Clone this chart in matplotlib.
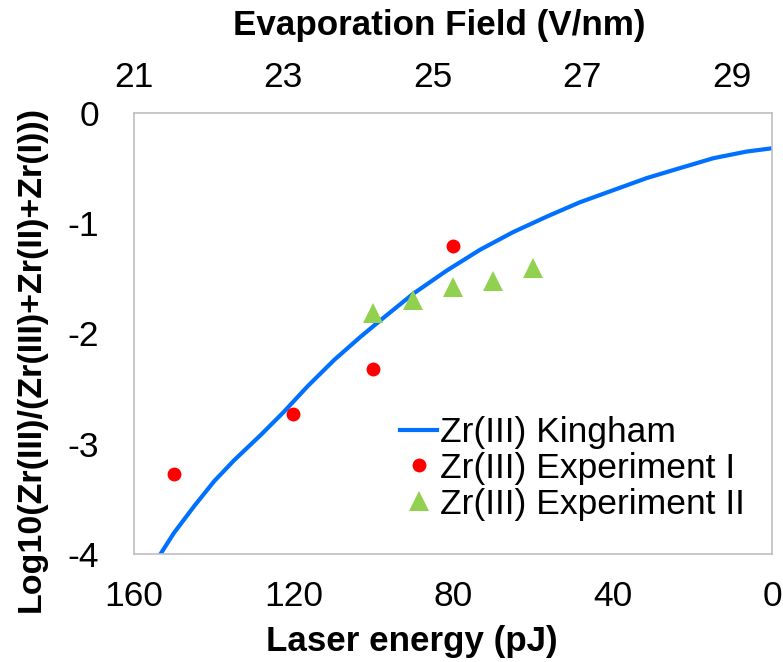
import matplotlib
matplotlib.use("Agg")
import matplotlib.pyplot as plt
from matplotlib.lines import Line2D

plt.rcParams['font.family'] = ['Liberation Sans', 'DejaVu Sans']
plt.rcParams['axes.unicode_minus'] = False

# Kingham model curve: laser energy (pJ) vs log10 Zr(III) fraction
kingham_energy = [153.7, 150.0, 145.0, 139.9, 134.9, 128.2, 122.4, 116.5, 109.8,
                  103.2, 96.5, 90.0, 81.6, 73.2, 64.9, 56.5, 48.2, 39.8, 31.4,
                  23.1, 14.7, 6.4, 0.0]
kingham_log = [-4.02, -3.81, -3.57, -3.34, -3.15, -2.92, -2.71, -2.48, -2.24,
               -2.03, -1.83, -1.64, -1.43, -1.24, -1.08, -0.94, -0.81, -0.70,
               -0.59, -0.50, -0.41, -0.35, -0.32]

# Experiment I
exp1_energy = [150, 120, 100, 80]
exp1_log = [-3.27, -2.73, -2.32, -1.21]

# Experiment II
exp2_energy = [100, 90, 80, 70, 60]
exp2_log = [-1.81, -1.70, -1.58, -1.52, -1.41]

bottom_ticks = [160, 120, 80, 40, 0]
left_ticks = [0, -1, -2, -3, -4]
top_ticks = [21, 23, 25, 27, 29]

BLUE = '#0070FF'
RED = '#FF0000'
GREEN = '#92D050'
FRAME = '#BFBFBF'
TICK_FS = 25.5
TITLE_FS = 25.2

fig = plt.figure(figsize=(7.83, 6.62), dpi=100)
ax = fig.add_axes([134 / 783, 1 - 554 / 662, 638 / 783, 441 / 662])

ax.plot(kingham_energy, kingham_log, color=BLUE, lw=3.0, solid_capstyle='butt',
        solid_joinstyle='round', zorder=2)
ax.plot(exp1_energy, exp1_log, 'o', color=RED, markersize=10, markeredgewidth=0,
        zorder=3)
ax.plot(exp2_energy, exp2_log, '^', color=GREEN, markersize=15, markeredgewidth=0,
        zorder=3)

ax.set_xlim(160, 0)
ax.set_ylim(-4, 0)
ax.set_xticks(bottom_ticks)
ax.set_yticks(left_ticks)
ax.tick_params(axis='x', length=0, pad=19, labelsize=TICK_FS)
ax.tick_params(axis='y', length=0, pad=25, labelsize=TICK_FS)
for s in ax.spines.values():
    s.set_color(FRAME)
    s.set_linewidth(1.2)

top = ax.twiny()
top.set_xlim(21, 21 + 638 / 74.7)
top.set_xticks(top_ticks)
top.tick_params(axis='x', length=0, pad=14, labelsize=TICK_FS)
for s in top.spines.values():
    s.set_visible(False)

fig.text(411.7 / 783, 1 - 641 / 662, 'Laser energy (pJ)', ha='center', va='center',
         fontsize=TITLE_FS, fontweight='bold')
fig.text(439.5 / 783, 1 - 25 / 662, 'Evaporation Field (V/nm)', ha='center',
         va='center', fontsize=TITLE_FS, fontweight='bold')
fig.text(31 / 783, 1 - 359 / 662, 'Log10(Zr(III)/(Zr(III)+Zr(II)+Zr(I)))',
         ha='center', va='center', rotation=90, fontsize=24.5,
         fontweight='bold')

handles = [
    Line2D([], [], color=BLUE, lw=3.0),
    Line2D([], [], marker='o', ls='none', color=RED, markersize=10,
           markeredgewidth=0),
    Line2D([], [], marker='^', ls='none', color=GREEN, markersize=15,
           markeredgewidth=0),
]
labels = ['Zr(III) Kingham', 'Zr(III) Experiment I', 'Zr(III) Experiment II']
ax.legend(handles, labels, loc='upper left',
          bbox_to_anchor=(400 / 783, 1 - 416 / 662),
          bbox_transform=fig.transFigure, frameon=False, fontsize=TICK_FS,
          borderpad=0, borderaxespad=0, handlelength=1.05, handletextpad=0.08,
          labelspacing=0.08)

fig.savefig('out.png', dpi=100)
